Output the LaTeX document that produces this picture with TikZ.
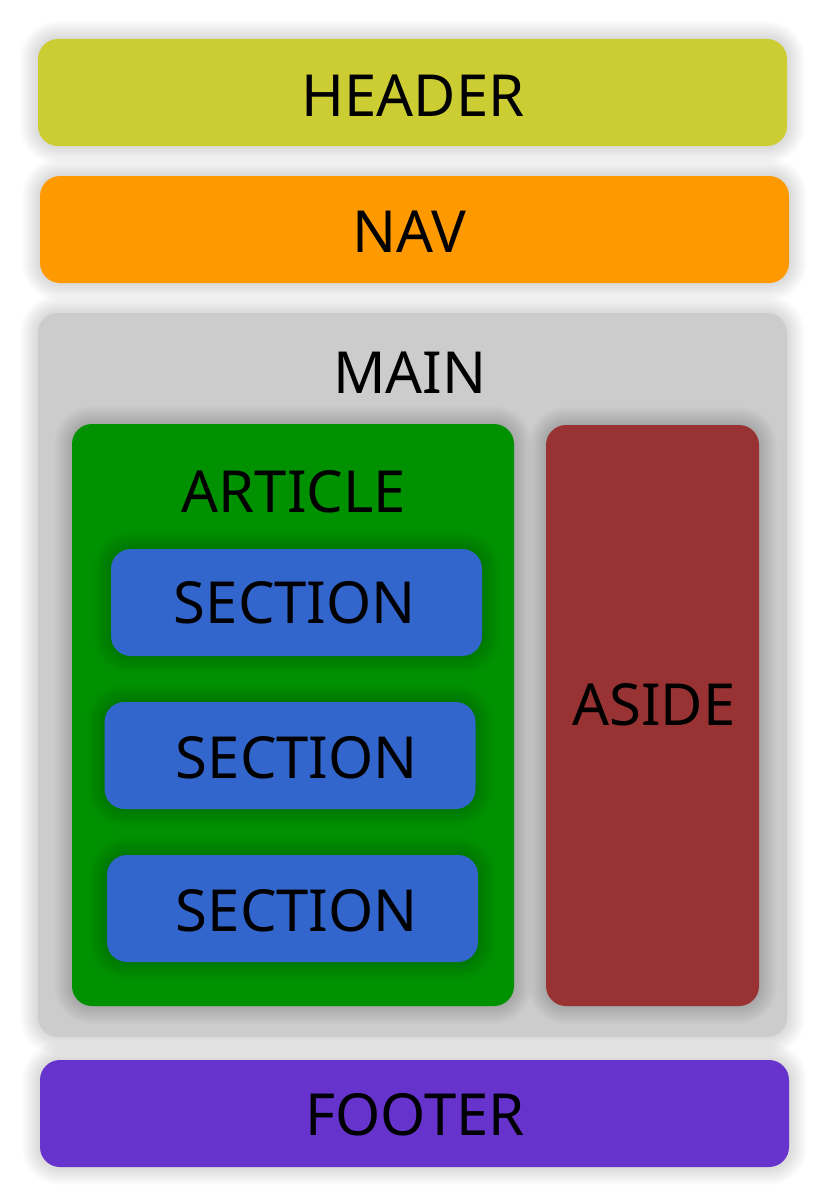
\documentclass[tikz,border=0pt]{standalone}
\usepackage{fontspec}
\setmainfont{Noto Sans}
\usepackage{tikz}
\definecolor{headercol}{HTML}{CCCC33}
\definecolor{navcol}{HTML}{FF9900}
\definecolor{maincol}{HTML}{CCCCCC}
\definecolor{articlecol}{HTML}{009100}
\definecolor{sectioncol}{HTML}{3366CC}
\definecolor{asidecol}{HTML}{993333}
\definecolor{footercol}{HTML}{6633CC}
\tikzset{halo/.style={preaction={draw=black,draw opacity=0.011,line width=#1pt}}}
\tikzstyle{box}=[rectangle,rounded corners=20pt,draw=none,inner sep=0pt,
    halo/.list={36,33,...,3}]
\tikzstyle{bar}=[box,minimum width=749pt,minimum height=107pt]
\tikzstyle{sect}=[box,fill=sectioncol,minimum width=371pt,minimum height=107pt]
\tikzstyle{tag}=[inner sep=0pt,font=\fontsize{58}{70}\selectfont]

\begin{document}
\begin{tikzpicture}[x=1pt,y=-1pt]
    \useasboundingbox (0,0) rectangle (839,1196);
    % Page blocks
    \node[bar,fill=headercol] (header) at (412.5,92.5) {};
    \node[bar,fill=navcol] (nav) at (414.5,229.5) {};
    \node[box,fill=maincol,minimum width=749pt,minimum height=724pt] (main) at (412.5,675) {};
    \node[bar,fill=footercol] (footer) at (414.5,1113.5) {};
    % Inside main
    \node[box,fill=articlecol,minimum width=442pt,minimum height=582pt] (article) at (293,715) {};
    \node[box,fill=asidecol,minimum width=213pt,minimum height=581pt] (aside) at (652.5,715.5) {};
    \foreach \pos/\name in {{(296.5,602.5)/sec1}, {(290,755.5)/sec2}, {(292.5,908.5)/sec3}}
        \node[sect] (\name) at \pos {};
    % Labels
    \foreach \pos/\name/\txt in {{(413,96)/tHeader/HEADER}, {(409,232)/tNav/NAV},
        {(410,373)/tMain/MAIN}, {(294,492)/tArticle/ARTICLE}, {(295,603)/tSec1/SECTION},
        {(297,758)/tSec2/SECTION}, {(297,911)/tSec3/SECTION}, {(654,705)/tAside/ASIDE},
        {(415,1115)/tFooter/FOOTER}}
        \node[tag] (\name) at \pos {\txt};
\end{tikzpicture}
\end{document}
